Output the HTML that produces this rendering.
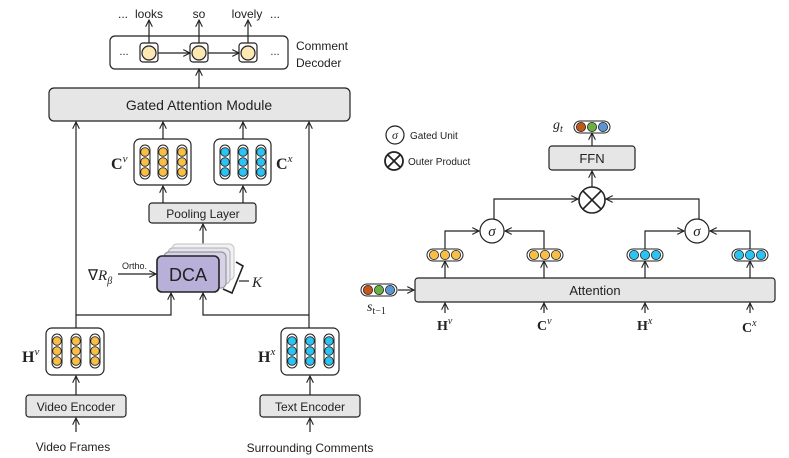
<!DOCTYPE html>
<html><head><meta charset="utf-8"><style>
html,body{margin:0;padding:0;background:#fff;width:789px;height:458px;overflow:hidden}
svg text{font-family:"Liberation Sans",sans-serif;fill:#222}
.m{font-family:"Liberation Serif",serif;font-style:italic}
.b{font-family:"Liberation Serif",serif;font-weight:bold}
</style></head><body>
<svg id="s" width="789" height="458" viewBox="0 0 789 458" xmlns="http://www.w3.org/2000/svg">
<defs><marker id="a" viewBox="0 0 10 10" refX="9" refY="5" markerWidth="7" markerHeight="7" orient="auto-start-reverse"><path d="M1,1 L9,5 L1,9" fill="none" stroke="#222" stroke-width="1.3"/></marker></defs>
<g stroke="#222" stroke-width="1.2" fill="none">
<!-- decoder -->
<rect x="110" y="36" width="178" height="33" rx="5"/>
<rect x="140" y="43" width="18" height="19" rx="3"/>
<rect x="190" y="43" width="18" height="19" rx="3"/>
<rect x="239" y="43" width="18" height="19" rx="3"/>
<line x1="158" y1="53" x2="190" y2="53" marker-end="url(#a)"/>
<line x1="208" y1="53" x2="239" y2="53" marker-end="url(#a)"/>
<line x1="149" y1="43" x2="149" y2="20" marker-end="url(#a)"/>
<line x1="199" y1="43" x2="199" y2="20" marker-end="url(#a)"/>
<line x1="248" y1="43" x2="248" y2="20" marker-end="url(#a)"/>
<line x1="199" y1="88" x2="199" y2="69" marker-end="url(#a)"/>
<!-- gated -->
<rect x="49" y="88" width="301" height="33" rx="5" fill="#e6e6e6"/>
<line x1="76" y1="328" x2="76" y2="122" marker-end="url(#a)"/>
<line x1="309" y1="328" x2="309" y2="122" marker-end="url(#a)"/>
<line x1="163" y1="139" x2="163" y2="122" marker-end="url(#a)"/>
<line x1="243" y1="139" x2="243" y2="122" marker-end="url(#a)"/>
<rect x="134" y="139" width="57" height="46" rx="6"/>
<rect x="214" y="139" width="57" height="46" rx="6"/>
<rect x="149" y="203" width="107" height="20" rx="3" fill="#e6e6e6"/>
<line x1="163" y1="203" x2="163" y2="186" marker-end="url(#a)"/>
<line x1="243" y1="203" x2="243" y2="186" marker-end="url(#a)"/>
<line x1="203" y1="246" x2="203" y2="224" marker-end="url(#a)"/>
<!-- DCA stack -->
<rect x="172" y="244" width="62" height="36" rx="5" fill="#f2f2f6" stroke="#ccc"/>
<rect x="168" y="248" width="62" height="36" rx="5" fill="#e6e4ef" stroke="#bbb"/>
<rect x="164" y="252" width="62" height="36" rx="5" fill="#d6d2e8" stroke="#999"/>
<rect x="157" y="256" width="62" height="36" rx="5" fill="#b8b0d8" stroke-width="1.6"/>
<polyline points="236,262 243,266 232,293 223,289" stroke-width="1.6"/>
<line x1="239" y1="281" x2="249" y2="281"/>
<line x1="118" y1="274" x2="156" y2="274" marker-end="url(#a)"/>
<polyline points="76,315 171,315 171,293" marker-end="url(#a)"/>
<polyline points="309,315 203,315 203,293" marker-end="url(#a)"/>
<rect x="46" y="328" width="58" height="47" rx="6"/>
<rect x="281" y="328" width="58" height="47" rx="6"/>
<rect x="26" y="395" width="100" height="22" rx="3" fill="#e6e6e6"/>
<rect x="260" y="395" width="100" height="22" rx="3" fill="#e6e6e6"/>
<line x1="76" y1="395" x2="76" y2="376" marker-end="url(#a)"/>
<line x1="310" y1="395" x2="310" y2="376" marker-end="url(#a)"/>
<line x1="76" y1="432" x2="76" y2="418" marker-end="url(#a)"/>
<line x1="310" y1="432" x2="310" y2="418" marker-end="url(#a)"/>
<!-- right -->
<circle cx="395" cy="135" r="9"/>
<circle cx="394" cy="161" r="9" stroke-width="1.8"/>
<line x1="388" y1="155" x2="400" y2="167" stroke-width="1.8"/><line x1="400" y1="155" x2="388" y2="167" stroke-width="1.8"/>
<rect x="549" y="146" width="86" height="24" rx="3" fill="#e6e6e6"/>
<line x1="592" y1="146" x2="592" y2="133" marker-end="url(#a)"/>
<line x1="592" y1="187" x2="592" y2="171" marker-end="url(#a)"/>
<circle cx="592" cy="200" r="13" stroke-width="1.6"/>
<line x1="583" y1="191" x2="601" y2="209" stroke-width="1.6"/><line x1="601" y1="191" x2="583" y2="209" stroke-width="1.6"/>
<polyline points="494,219 494,199 578,199" marker-end="url(#a)"/>
<polyline points="699,219 699,199 606,199" marker-end="url(#a)"/>
<circle cx="492" cy="231" r="12"/>
<circle cx="697" cy="231" r="12"/>
<polyline points="445,249 445,231 479,231" marker-end="url(#a)"/>
<polyline points="544,249 544,231 505,231" marker-end="url(#a)"/>
<polyline points="645,249 645,231 684,231" marker-end="url(#a)"/>
<polyline points="750,249 750,231 710,231" marker-end="url(#a)"/>
<rect x="415" y="278" width="360" height="24" rx="3" fill="#e6e6e6"/>
<line x1="445" y1="278" x2="445" y2="261" marker-end="url(#a)"/>
<line x1="544" y1="278" x2="544" y2="261" marker-end="url(#a)"/>
<line x1="645" y1="278" x2="645" y2="261" marker-end="url(#a)"/>
<line x1="750" y1="278" x2="750" y2="261" marker-end="url(#a)"/>
<line x1="398" y1="290" x2="414" y2="290" marker-end="url(#a)"/>
<line x1="445" y1="313" x2="445" y2="303" marker-end="url(#a)"/>
<line x1="544" y1="313" x2="544" y2="303" marker-end="url(#a)"/>
<line x1="645" y1="313" x2="645" y2="303" marker-end="url(#a)"/>
<line x1="750" y1="313" x2="750" y2="303" marker-end="url(#a)"/>
</g>
<g id="dots"></g>
<!-- text -->
<text x="123" y="18" font-size="12" text-anchor="middle">...</text>
<text x="149" y="18" font-size="12" text-anchor="middle">looks</text>
<text x="199" y="18" font-size="12" text-anchor="middle">so</text>
<text x="247" y="18" font-size="12" text-anchor="middle">lovely</text>
<text x="275" y="18" font-size="12" text-anchor="middle">...</text>
<text x="124" y="55" font-size="11" text-anchor="middle">...</text>
<text x="275" y="55" font-size="11" text-anchor="middle">...</text>
<text x="296" y="50" font-size="12">Comment</text>
<text x="296" y="67" font-size="12">Decoder</text>
<text x="199" y="110" font-size="14" text-anchor="middle">Gated Attention Module</text>
<text x="111" y="169" font-size="16" class="b">C<tspan font-size="11" dy="-7" class="m" font-weight="normal">v</tspan></text>
<text x="276" y="169" font-size="16" class="b">C<tspan font-size="11" dy="-7" class="m" font-weight="normal">x</tspan></text>
<text x="203" y="218" font-size="12" text-anchor="middle">Pooling Layer</text>
<text x="188" y="281" font-size="18" text-anchor="middle">DCA</text>
<text x="252" y="287" font-size="15" class="m">K</text>
<text x="88" y="280" font-size="15" class="m"><tspan font-style="normal">∇</tspan>R<tspan font-size="10" dy="4">β</tspan></text>
<text x="122" y="269" font-size="9">Ortho.</text>
<text x="22" y="362" font-size="16" class="b">H<tspan font-size="11" dy="-7" class="m" font-weight="normal">v</tspan></text>
<text x="258" y="362" font-size="16" class="b">H<tspan font-size="11" dy="-7" class="m" font-weight="normal">x</tspan></text>
<text x="76" y="411" font-size="12" text-anchor="middle">Video Encoder</text>
<text x="310" y="411" font-size="12" text-anchor="middle">Text Encoder</text>
<text x="73" y="451" font-size="12" text-anchor="middle">Video Frames</text>
<text x="310" y="452" font-size="12" text-anchor="middle">Surrounding Comments</text>
<text x="395" y="139" font-size="12" class="m" text-anchor="middle">σ</text>
<text x="410" y="139" font-size="10">Gated Unit</text>
<text x="408" y="165" font-size="10">Outer Product</text>
<text x="553" y="129" font-size="14" class="m">g<tspan font-size="10" dy="3">t</tspan></text>
<text x="592" y="163" font-size="13" text-anchor="middle">FFN</text>
<text x="492" y="236" font-size="15" class="m" text-anchor="middle">σ</text>
<text x="697" y="236" font-size="15" class="m" text-anchor="middle">σ</text>
<text x="595" y="295" font-size="13" text-anchor="middle">Attention</text>
<text x="367" y="311" font-size="14" class="m">s<tspan font-size="10" dy="3" font-style="normal">t−1</tspan></text>
<text x="437" y="330" font-size="14" class="b">H<tspan font-size="10" dy="-6" class="m" font-weight="normal">v</tspan></text>
<text x="537" y="330" font-size="14" class="b">C<tspan font-size="10" dy="-6" class="m" font-weight="normal">v</tspan></text>
<text x="637" y="330" font-size="14" class="b">H<tspan font-size="10" dy="-6" class="m" font-weight="normal">x</tspan></text>
<text x="742" y="332" font-size="14" class="b">C<tspan font-size="10" dy="-6" class="m" font-weight="normal">x</tspan></text>
<script>
var g=document.getElementById('dots'),N='http://www.w3.org/2000/svg';
function el(t,a){var e=document.createElementNS(N,t);for(var k in a)e.setAttribute(k,a[k]);g.appendChild(e);return e;}
var O='#f8be45',B='#2ac4f4';
[149,199,248].forEach(function(x){el('circle',{cx:x,cy:53,r:7,fill:'#fde8b4',stroke:'#222','stroke-width':1.2});});
function col(x,y,c){el('rect',{x:x-5,y:y-17,width:10,height:34,rx:5,fill:'#fff',stroke:'#222','stroke-width':1});
[-10,0,10].forEach(function(d){el('circle',{cx:x,cy:y+d,r:4.3,fill:c,stroke:'#222','stroke-width':0.8});});}
[145,163,182].forEach(function(x){col(x,162,O);});
[225,243,261].forEach(function(x){col(x,162,B);});
[57,76,95].forEach(function(x){col(x,351,O);});
[292,310,329].forEach(function(x){col(x,351,B);});
function row(cx,y,cs){el('rect',{x:cx-18,y:y-6,width:36,height:12,rx:6,fill:'#fff',stroke:'#222','stroke-width':1});
cs.forEach(function(c,i){el('circle',{cx:cx-11+i*11,cy:y,r:4.6,fill:c,stroke:'#222','stroke-width':0.8});});}
row(445,255,[O,O,O]);row(545,255,[O,O,O]);row(645,255,[B,B,B]);row(750,255,[B,B,B]);
var T=['#c5561a','#6cb043','#5a96d6'];
row(592,127,T);row(379,290,T);
</script>
</svg>
</body></html>
